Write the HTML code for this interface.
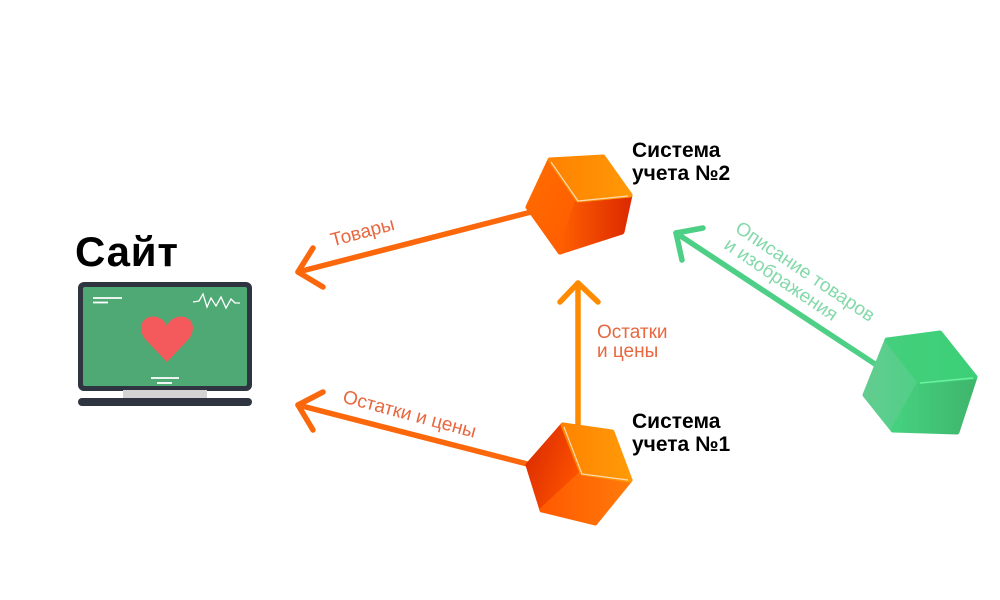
<!DOCTYPE html>
<html><head><meta charset="utf-8">
<style>
html,body{margin:0;padding:0;background:#fff;}
svg{display:block;}
</style></head>
<body>
<svg width="1000" height="600" viewBox="0 0 1000 600" xmlns="http://www.w3.org/2000/svg">
<defs>
<linearGradient id="c2top" x1="0" y1="0" x2="1" y2="0"><stop offset="0" stop-color="#ff8200"/><stop offset="1" stop-color="#ff9806"/></linearGradient>
<linearGradient id="c2left" x1="0" y1="0" x2="1" y2="1"><stop offset="0" stop-color="#ff6e00"/><stop offset="1" stop-color="#ff5a00"/></linearGradient>
<linearGradient id="c2front" x1="0" y1="0" x2="1" y2="0"><stop offset="0" stop-color="#ff6000"/><stop offset="1" stop-color="#dc2a00"/></linearGradient>
<linearGradient id="c1top" x1="0" y1="0" x2="1" y2="0"><stop offset="0" stop-color="#ff8400"/><stop offset="1" stop-color="#ff9a08"/></linearGradient>
<linearGradient id="c1left" x1="0" y1="0" x2="1" y2="0.6"><stop offset="0" stop-color="#d82800"/><stop offset="1" stop-color="#ff5400"/></linearGradient>
<linearGradient id="c1bot" x1="0" y1="0" x2="1" y2="0"><stop offset="0" stop-color="#ff5a00"/><stop offset="1" stop-color="#ff7a0a"/></linearGradient>
<linearGradient id="gtop" x1="0" y1="0" x2="1" y2="0"><stop offset="0" stop-color="#44cf7c"/><stop offset="1" stop-color="#3ccf78"/></linearGradient>
<linearGradient id="gleft" x1="0" y1="0" x2="1" y2="0"><stop offset="0" stop-color="#62cd90"/><stop offset="1" stop-color="#4fcf86"/></linearGradient>
<linearGradient id="gfront" x1="0" y1="0" x2="1" y2="0"><stop offset="0" stop-color="#45d27f"/><stop offset="1" stop-color="#3fb56c"/></linearGradient>
</defs>

<!-- Site label -->
<text x="75" y="266" font-family="Liberation Sans, sans-serif" font-weight="bold" font-size="42" letter-spacing="0.8" fill="#000">Сайт</text>

<!-- Laptop -->
<rect x="78" y="282" width="174" height="109" rx="6" fill="#2f3441"/>
<rect x="83" y="287" width="164" height="99" rx="2" fill="#4fa975"/>
<rect x="123" y="390" width="84" height="8" fill="#d3d3d3"/>
<rect x="78" y="398" width="174" height="8" rx="4" fill="#2f3441"/>
<line x1="93" y1="298" x2="122" y2="298" stroke="#fff" stroke-width="1.8"/>
<line x1="93" y1="302.5" x2="108" y2="302.5" stroke="#fff" stroke-width="1.8"/>
<polyline points="193,302 199,301 203,294 207,307 211,298 216,306 221,297 226,308 231,299 235,303 240,303" fill="none" stroke="#fff" stroke-width="1.3"/>
<path d="M167 362 L147 341 C137 331 140 317 153 316.5 C160 316.5 165 321 167 326 C169 321 174 316.5 181 316.5 C194 317 197 331 187 341 Z" fill="#f45a5b"/>
<line x1="151" y1="378" x2="179" y2="378" stroke="#fff" stroke-width="1.8"/>
<line x1="157" y1="383" x2="172" y2="383" stroke="#fff" stroke-width="1.8"/>

<!-- Arrows -->
<g fill="none" stroke-linecap="round" stroke-linejoin="round">
  <line x1="535" y1="211" x2="298" y2="272" stroke="#fb670b" stroke-width="5.5"/>
  <polyline points="313,248 298,272 323,287" stroke="#fb670b" stroke-width="5.5"/>
  <line x1="535" y1="466" x2="298" y2="405" stroke="#fb670b" stroke-width="5.5"/>
  <polyline points="323,392 298,405 313,430" stroke="#fb670b" stroke-width="5.5"/>
  <line x1="578" y1="430" x2="578" y2="283" stroke="#ff8a00" stroke-width="5.5"/>
  <polyline points="560,302 578,283 598,302" stroke="#ff8a00" stroke-width="5.5"/>
  <line x1="878" y1="366" x2="676" y2="233" stroke="#4ecf86" stroke-width="5.5"/>
  <polyline points="703,228 676,233 682,260" stroke="#4ecf86" stroke-width="5.5"/>
</g>

<!-- Arrow labels -->
<g font-family="Liberation Sans, sans-serif" font-size="19" fill="#e8673e">
  <text transform="translate(364,238) rotate(-15)" text-anchor="middle">Товары</text>
  <text transform="translate(408,420) rotate(15)" text-anchor="middle">Остатки и цены</text>
  <text x="597" y="338" font-size="19">Остатки</text>
  <text x="597" y="357" font-size="19">и цены</text>
</g>
<g font-family="Liberation Sans, sans-serif" font-size="19" fill="#84d9aa" transform="translate(734,231) rotate(34)">
  <text x="0" y="0">Описание товаров</text>
  <text x="0" y="20">и изображения</text>
</g>

<!-- Cube 2 -->
<g stroke-linejoin="round" stroke-width="5">
  <polygon points="528,207 550,160 578,200 560,252" fill="url(#c2left)" stroke="url(#c2left)"/>
  <polygon points="578,200 630,195 622,232 560,252" fill="url(#c2front)" stroke="url(#c2front)"/>
  <polygon points="550,160 603,157 630,195 578,200" fill="url(#c2top)" stroke="url(#c2top)"/>
</g>
<polyline points="551,162 578,201 628,196" fill="none" stroke="#ffd9b0" stroke-width="1.2" stroke-linejoin="round"/>

<!-- Cube 1 -->
<g stroke-linejoin="round" stroke-width="5">
  <polygon points="528,465 563,425 582,473 542,510" fill="url(#c1left)" stroke="url(#c1left)"/>
  <polygon points="582,473 630,480 595,523 542,510" fill="url(#c1bot)" stroke="url(#c1bot)"/>
  <polygon points="563,425 612,432 630,480 582,473" fill="url(#c1top)" stroke="url(#c1top)"/>
</g>
<polyline points="564,427 582,474 628,480" fill="none" stroke="#ffd9b0" stroke-width="1.2" stroke-linejoin="round"/>

<!-- Green cube -->
<g stroke-linejoin="round" stroke-width="5">
  <polygon points="865,395 887,340 920,382 893,430" fill="url(#gleft)" stroke="url(#gleft)"/>
  <polygon points="920,382 975,377 957,432 893,430" fill="url(#gfront)" stroke="url(#gfront)"/>
  <polygon points="887,340 940,333 975,377 920,382" fill="url(#gtop)" stroke="url(#gtop)"/>
</g>
<polyline points="920,383 973,378" fill="none" stroke="#6df09e" stroke-width="1.5"/>

<!-- System labels -->
<g font-family="Liberation Sans, sans-serif" font-weight="bold" font-size="21" fill="#000">
  <text x="632" y="157">Система</text>
  <text x="632" y="180">учета №2</text>
  <text x="632" y="428">Система</text>
  <text x="632" y="451">учета №1</text>
</g>
</svg>
</body></html>
